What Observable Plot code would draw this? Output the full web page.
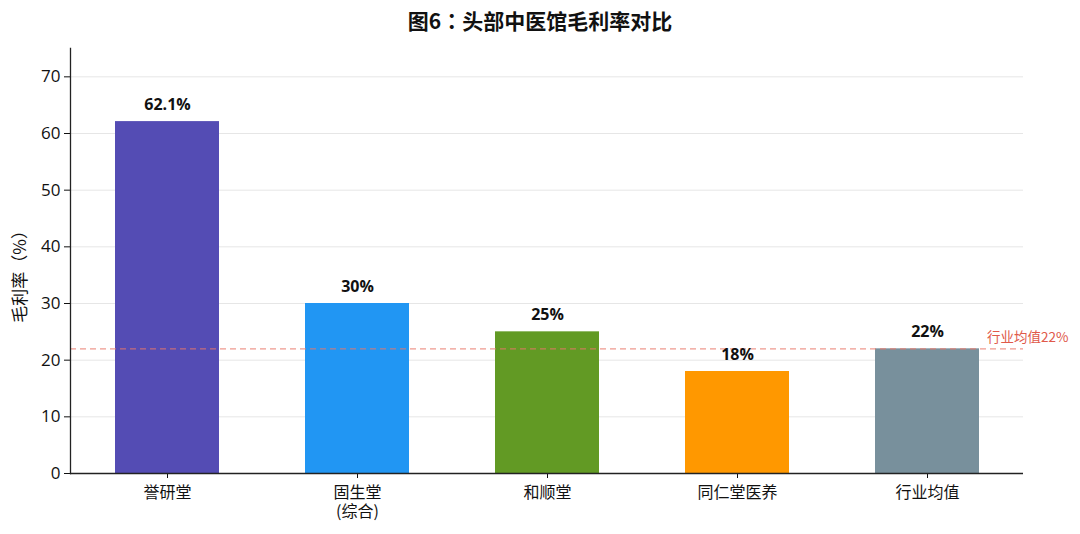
<!DOCTYPE html>
<html>
<head>
<meta charset="utf-8">
<script src="https://cdn.jsdelivr.net/npm/d3@7"></script>
<script src="https://cdn.jsdelivr.net/npm/@observablehq/plot@0.6"></script>
<style>
  html, body { margin: 0; padding: 0; background: #fff; }
  #wrap { position: relative; width: 1080px; height: 534px; font-family: "Open Sans", "Noto Sans CJK SC", sans-serif; }
  #title { position: absolute; top: 5px; left: 0; width: 1080px; text-align: center; font-size: 21px; font-weight: bold; color: #111; font-family: "Noto Sans CJK SC", sans-serif; }
  #title .c { font-family: "Noto Sans CJK TC", sans-serif; }
  #chart { position: absolute; top: 0; left: 0; }
</style>
</head>
<body>
<div id="wrap">
  <div id="title"></div>
  <div id="chart"></div>
</div>
<script>
const titleParts = ["图6", "：", "头部中医馆毛利率对比"];
const categories = ["誉研堂", "固生堂\n(综合)", "和顺堂", "同仁堂医养", "行业均值"];
const values = [62.1, 30, 25, 18, 22];
const valueLabels = ["62.1%", "30%", "25%", "18%", "22%"];
const colors = ["#544CB4", "#2196F3", "#629A24", "#FF9800", "#78909C"];
const avgValue = 22;
const avgLabel = "行业均值22%";
const yTicks = [0, 10, 20, 30, 40, 50, 60, 70];
const yTitle = "毛利率（%）";

const t = document.getElementById("title");
t.append(titleParts[0]);
const cs = document.createElement("span"); cs.className = "c"; cs.textContent = titleParts[1]; t.append(cs);
t.append(titleParts[2]);

const data = categories.map((c, i) => ({cat: c, v: values[i], label: valueLabels[i], color: colors[i]}));

const font = "Open Sans, Noto Sans CJK SC, sans-serif";

const chart = Plot.plot({
  width: 1080,
  height: 534,
  marginLeft: 70,
  marginRight: 57,
  marginTop: 48,
  marginBottom: 61,
  style: {fontFamily: font, fontSize: "15px", color: "#111", background: "transparent"},
  x: {domain: categories, paddingInner: 0.454, paddingOuter: 0.227, align: 0.5, label: null},
  y: {domain: [0, 75], ticks: yTicks, label: null},
  marks: [
    Plot.gridY(yTicks, {stroke: "#e6e6e6", strokeOpacity: 1, strokeWidth: 1}),
    Plot.barY(data, {x: "cat", y: "v", fill: "color"}),
    Plot.ruleY([avgValue], {stroke: "#E8776A", strokeOpacity: 0.75, strokeWidth: 1.2, strokeDasharray: "6,4"}),
    Plot.text([avgLabel], {frameAnchor: "right", y: [avgValue], dx: 45, dy: -11, text: d => d, fill: "#E0594A", fontSize: 13.5, textAnchor: "end", fontFamily: "Noto Sans CJK SC, sans-serif"}),
    Plot.text(data, {x: "cat", y: "v", text: "label", dy: -17, fontWeight: "bold", fontSize: 16, fill: "#111"}),
    Plot.axisX({tickSize: 5, tickPadding: 6, fontSize: 16, lineHeight: 1.2, label: null, fontFamily: "Noto Sans CJK SC, sans-serif"}),
    Plot.axisY(yTicks, {tickSize: 6, tickPadding: 4, fontSize: 17, label: null}),
    Plot.ruleY([0], {stroke: "#222", strokeWidth: 1.3}),
    Plot.frame({anchor: "left", stroke: "#222", strokeWidth: 1.3}),
    Plot.text([yTitle], {frameAnchor: "left", y: [35.5], dx: -50, rotate: -90, textAnchor: "middle", text: d => d, fontSize: 17, fill: "#111", fontFamily: "Noto Sans CJK SC, sans-serif"})
  ]
});
document.getElementById("chart").appendChild(chart);
</script>
</body>
</html>
